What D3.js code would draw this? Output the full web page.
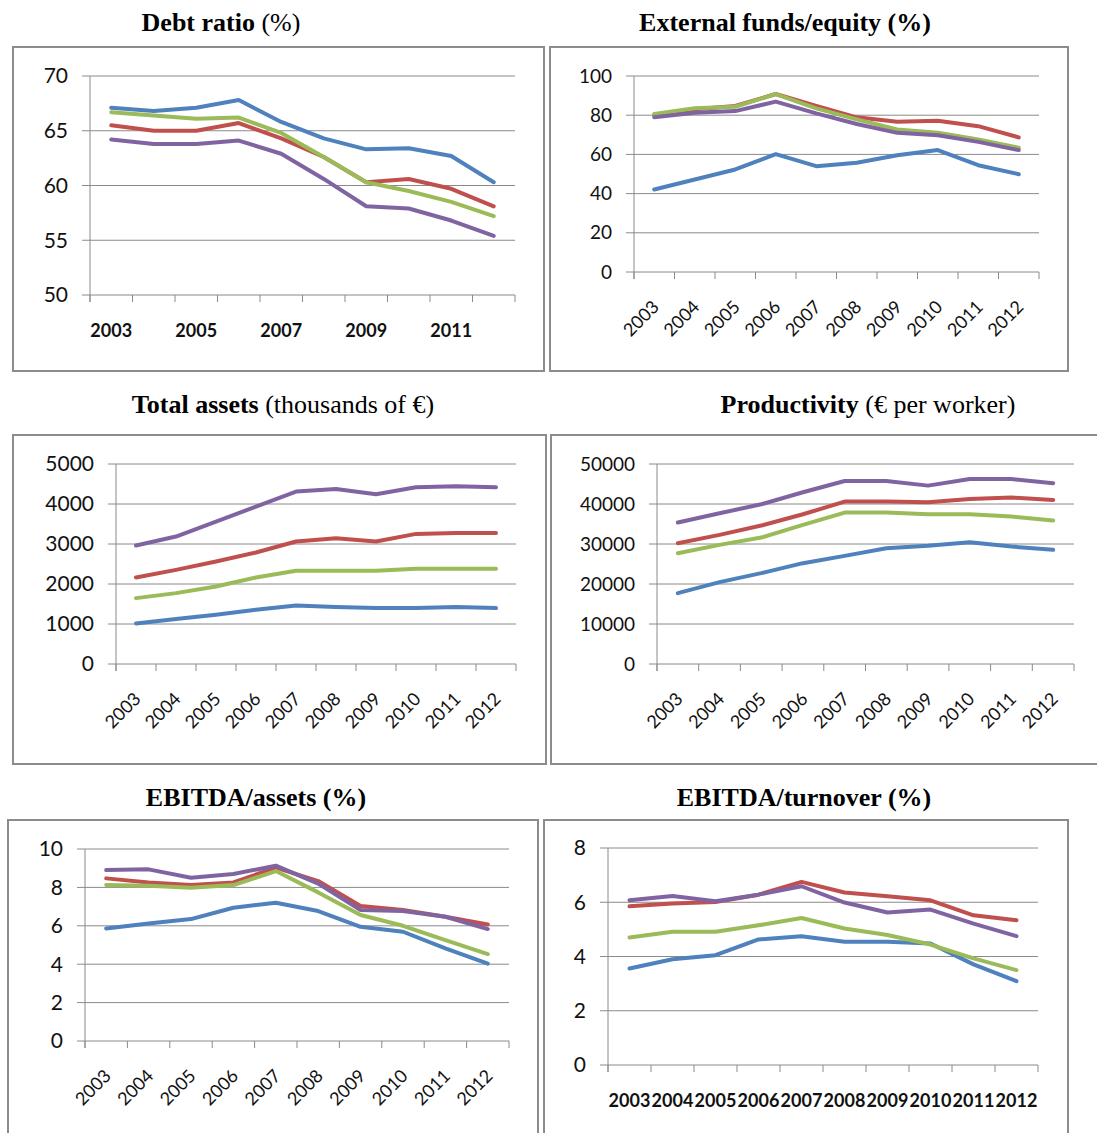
<!DOCTYPE html>
<html>
<head>
<meta charset="utf-8">
<script src="https://cdn.jsdelivr.net/npm/d3@7"></script>
<style>
  body { margin: 0; background: #fff; }
  svg { display: block; }
</style>
</head>
<body>
<svg id="chart" width="1097" height="1133"></svg>
<script>
const years = ["2003", "2004", "2005", "2006", "2007", "2008", "2009", "2010", "2011", "2012"];
// blue, red, green, purple (Excel default order)
const seriesColors = ["#4f81bd", "#c0504d", "#9bbb59", "#8064a2"];

// Debt ratio (%)
const debtBlue   = [67.1, 66.8, 67.1, 67.8, 65.8, 64.3, 63.3, 63.4, 62.7, 60.3];
const debtRed    = [65.5, 65.0, 65.0, 65.7, 64.3, 62.6, 60.3, 60.6, 59.7, 58.1];
const debtGreen  = [66.7, 66.4, 66.1, 66.2, 64.8, 62.6, 60.3, 59.5, 58.5, 57.2];
const debtPurple = [64.2, 63.8, 63.8, 64.1, 62.9, 60.6, 58.1, 57.9, 56.8, 55.4];

// External funds/equity (%)
const extBlue   = [42.1, 47.2, 52.3, 60.1, 54.0, 55.7, 59.6, 62.2, 54.5, 49.9];
const extRed    = [80.0, 83.0, 84.7, 90.8, 84.7, 78.9, 76.7, 77.2, 74.4, 68.7];
const extGreen  = [80.6, 83.5, 84.3, 90.8, 83.5, 77.9, 72.7, 71.0, 67.6, 63.4];
const extPurple = [78.9, 81.3, 82.1, 86.9, 80.9, 75.5, 71.0, 69.8, 66.4, 62.2];

// Total assets (thousands of €)
const assetsBlue   = [1015, 1123, 1231, 1356, 1464, 1423, 1398, 1398, 1423, 1398];
const assetsRed    = [2163, 2354, 2562, 2787, 3062, 3145, 3062, 3253, 3278, 3278];
const assetsGreen  = [1647, 1772, 1938, 2163, 2329, 2329, 2329, 2379, 2379, 2379];
const assetsPurple = [2962, 3186, 3561, 3935, 4310, 4376, 4243, 4418, 4443, 4418];

// Productivity (€ per worker)
const prodBlue   = [17720, 20466, 22712, 25208, 27038, 28952, 29534, 30449, 29368, 28536];
const prodRed    = [30200, 32280, 34609, 37438, 40599, 40599, 40433, 41265, 41597, 41015];
const prodGreen  = [27704, 29784, 31614, 34775, 37854, 37854, 37438, 37438, 36855, 35857];
const prodPurple = [35358, 37687, 39933, 42929, 45757, 45757, 44592, 46256, 46256, 45175];

// EBITDA/assets (%)
const eaBlue   = [5.86, 6.12, 6.35, 6.94, 7.20, 6.77, 5.95, 5.69, 4.82, 4.03];
const eaRed    = [8.47, 8.26, 8.12, 8.26, 9.03, 8.33, 7.03, 6.82, 6.47, 6.07];
const eaGreen  = [8.12, 8.09, 7.98, 8.12, 8.85, 7.74, 6.56, 6.00, 5.25, 4.52];
const eaPurple = [8.90, 8.94, 8.50, 8.70, 9.13, 8.20, 6.82, 6.77, 6.47, 5.83];

// EBITDA/turnover (%)
const etBlue   = [3.56, 3.90, 4.05, 4.63, 4.75, 4.54, 4.54, 4.48, 3.71, 3.09];
const etRed    = [5.85, 5.95, 6.01, 6.28, 6.75, 6.36, 6.22, 6.07, 5.52, 5.34];
const etGreen  = [4.70, 4.91, 4.91, 5.15, 5.42, 5.03, 4.79, 4.44, 3.93, 3.50];
const etPurple = [6.07, 6.23, 6.04, 6.28, 6.59, 5.99, 5.62, 5.73, 5.21, 4.75];

const debtTicks   = [50, 55, 60, 65, 70];
const extTicks    = [0, 20, 40, 60, 80, 100];
const assetsTicks = [0, 1000, 2000, 3000, 4000, 5000];
const prodTicks   = [0, 10000, 20000, 30000, 40000, 50000];
const eaTicks     = [0, 2, 4, 6, 8, 10];
const etTicks     = [0, 2, 4, 6, 8];

// 各パネルの配置とスタイル
const panels = [
  { bold: "Debt ratio", normal: " (%)", titleX: 221, titleY: 31,
    series: [debtBlue, debtRed, debtGreen, debtPurple], ticks: debtTicks,
    box: [13, 47, 544, 371], plot: [90, 76, 515, 295], yFont: 21, xMode: "alt" },
  { bold: "External funds/equity (%)", normal: "", titleX: 785, titleY: 31,
    series: [extBlue, extRed, extGreen, extPurple], ticks: extTicks,
    box: [550, 47, 1068, 371], plot: [634, 76, 1039, 272], yFont: 19, xMode: "rot" },
  { bold: "Total assets", normal: " (thousands of €)", titleX: 283, titleY: 413,
    series: [assetsBlue, assetsRed, assetsGreen, assetsPurple], ticks: assetsTicks,
    box: [13, 435, 546, 764], plot: [116, 464, 516, 664], yFont: 21, xMode: "rot" },
  { bold: "Productivity", normal: " (€ per worker)", titleX: 868, titleY: 413,
    series: [prodBlue, prodRed, prodGreen, prodPurple], ticks: prodTicks,
    box: [551, 435, 1110, 764], plot: [657, 464, 1074, 664], yFont: 19, xMode: "rot" },
  { bold: "EBITDA/assets (%)", normal: "", titleX: 256, titleY: 806,
    series: [eaBlue, eaRed, eaGreen, eaPurple], ticks: eaTicks,
    box: [8, 820, 538, 1150], plot: [85, 849, 509, 1041], yFont: 21, xMode: "rot" },
  { bold: "EBITDA/turnover (%)", normal: "", titleX: 804, titleY: 806,
    series: [etBlue, etRed, etGreen, etPurple], ticks: etTicks,
    box: [544, 820, 1068, 1150], plot: [608, 848, 1038, 1065], yFont: 21, xMode: "flat" }
];

const svg = d3.select("#chart");
svg.append("rect").attr("width", 1097).attr("height", 1133).attr("fill", "#fff");

panels.forEach(p => drawPanel(p));

function drawPanel(p) {
  const [bx0, by0, bx1, by1] = p.box;
  const [px0, py0, px1, py1] = p.plot;

  // タイトル
  const title = svg.append("text")
    .attr("x", p.titleX).attr("y", p.titleY)
    .attr("text-anchor", "middle")
    .style("font-family", "'Liberation Serif', 'Times New Roman', serif")
    .style("font-size", "26px")
    .attr("fill", "#000");
  title.append("tspan").attr("font-weight", "bold").text(p.bold);
  if (p.normal) title.append("tspan").text(p.normal);

  // 枠
  svg.append("rect")
    .attr("x", bx0).attr("y", by0)
    .attr("width", bx1 - bx0).attr("height", by1 - by0)
    .attr("fill", "none").attr("stroke", "#8c8c8c").attr("stroke-width", 2);

  const x = d3.scaleBand().domain(years).range([px0, px1]);
  const y = d3.scaleLinear().domain(d3.extent(p.ticks)).range([py1, py0]);

  const g = svg.append("g");

  // グリッド線
  g.append("g").selectAll("line").data(p.ticks)
    .enter().append("line")
    .attr("x1", px0 - 8).attr("x2", px1)
    .attr("y1", d => y(d)).attr("y2", d => y(d))
    .attr("stroke", "#8a8a8a").attr("stroke-width", 1);

  // Y軸
  g.append("line")
    .attr("x1", px0).attr("x2", px0)
    .attr("y1", py0).attr("y2", py1 + 7)
    .attr("stroke", "#8a8a8a").attr("stroke-width", 1);

  g.append("g").selectAll("text").data(p.ticks)
    .enter().append("text")
    .attr("x", px0 - 22)
    .attr("y", d => y(d))
    .attr("dy", "0.35em")
    .attr("text-anchor", "end")
    .style("font-family", "Lato, 'Open Sans', sans-serif")
    .style("font-size", p.yFont + "px")
    .attr("fill", "#111")
    .text(d => d);

  // X軸の目盛り（カテゴリ境界）
  const bounds = years.map(d => x(d)).concat([px1]);
  g.append("g").selectAll("line").data(bounds)
    .enter().append("line")
    .attr("x1", d => d).attr("x2", d => d)
    .attr("y1", py1).attr("y2", py1 + 7)
    .attr("stroke", "#8a8a8a").attr("stroke-width", 1);

  const cx = d => x(d) + x.bandwidth() / 2;
  const labels = g.append("g").selectAll("text")
    .data(p.xMode === "alt" ? years.filter((d, i) => i % 2 === 0) : years)
    .enter().append("text")
    .style("font-family", "Lato, 'Open Sans', sans-serif")
    .attr("fill", "#111")
    .text(d => d);

  if (p.xMode === "rot") {
    labels
      .attr("text-anchor", "end")
      .attr("transform", d => `translate(${cx(d) + 6},${py1 + 36}) rotate(-45)`)
      .style("font-size", "18px");
  } else {
    labels
      .attr("x", d => cx(d))
      .attr("y", py1 + 42)
      .attr("text-anchor", "middle")
      .style("font-size", "18px")
      .attr("font-weight", "bold");
  }

  // 系列の線
  const line = d3.line()
    .x((d, i) => cx(years[i]))
    .y(d => y(d));

  p.series.forEach((s, i) => {
    g.append("path")
      .datum(s)
      .attr("d", line)
      .attr("fill", "none")
      .attr("stroke", seriesColors[i])
      .attr("stroke-width", 4)
      .attr("stroke-linejoin", "round")
      .attr("stroke-linecap", "round");
  });
}
</script>
</body>
</html>
